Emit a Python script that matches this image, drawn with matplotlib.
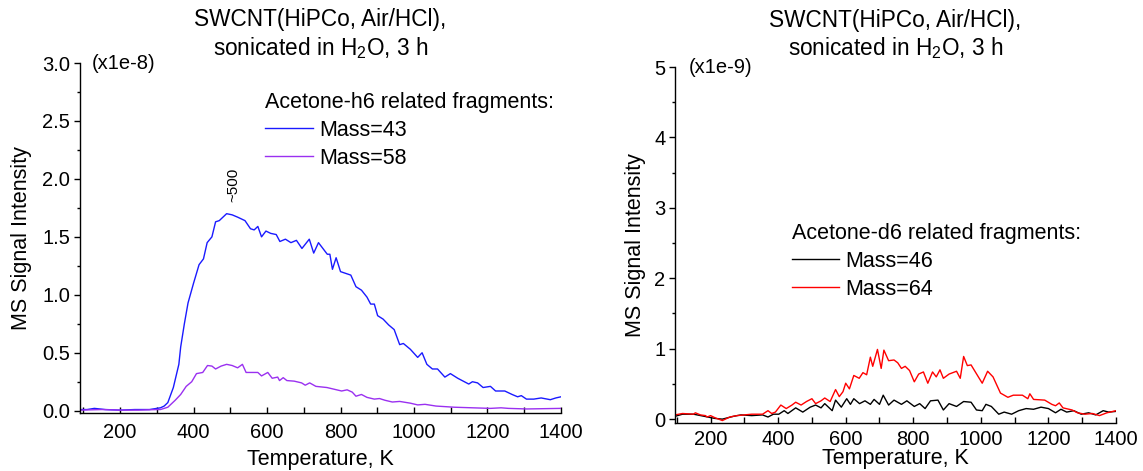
import matplotlib
matplotlib.use("Agg")
import matplotlib.pyplot as plt
from matplotlib.ticker import MultipleLocator, FormatStrFormatter

plt.rcParams['font.family'] = ['Liberation Sans', 'DejaVu Sans']
plt.rcParams['mathtext.fontset'] = 'custom'
plt.rcParams['mathtext.rm'] = 'Liberation Sans'
plt.rcParams['mathtext.it'] = 'Liberation Sans:italic'

# ---- Acetone-h6 (x1e-8) ----
t_h43 = [92, 110, 130, 160, 200, 240, 280, 300, 310, 320, 330, 345, 360, 365, 375, 385,
         400, 415, 427, 437, 450, 460, 470, 490, 505, 520, 540, 555, 565, 575, 585, 597,
         610, 625, 635, 650, 665, 680, 695, 715, 727, 740, 752, 764, 771, 778, 788, 800,
         828, 842, 857, 872, 882, 892, 901, 916, 931, 946, 961, 971, 990, 1010, 1022, 1035,
         1050, 1064, 1084, 1099, 1119, 1149, 1159, 1173, 1188, 1208, 1222, 1247, 1267, 1282,
         1292, 1306, 1326, 1346, 1371, 1386, 1400]
i_h43 = [0.01, 0.01, 0.02, 0.01, 0.005, 0.01, 0.01, 0.02, 0.025, 0.04, 0.07, 0.2, 0.4, 0.55, 0.75, 0.93,
         1.1, 1.26, 1.31, 1.45, 1.5, 1.63, 1.64, 1.70, 1.69, 1.67, 1.64, 1.57, 1.56, 1.59, 1.50, 1.55,
         1.53, 1.52, 1.46, 1.48, 1.45, 1.47, 1.40, 1.48, 1.36, 1.45, 1.40, 1.35, 1.35, 1.22, 1.32, 1.20,
         1.17, 1.07, 1.04, 0.98, 0.92, 0.92, 0.82, 0.79, 0.74, 0.70, 0.57, 0.58, 0.53, 0.46, 0.50, 0.40,
         0.36, 0.36, 0.29, 0.32, 0.28, 0.23, 0.25, 0.24, 0.20, 0.21, 0.17, 0.17, 0.14, 0.12,
         0.13, 0.10, 0.10, 0.11, 0.095, 0.11, 0.12]

t_h58 = [92, 150, 200, 250, 300, 310, 330, 350, 365, 380, 395, 408, 425, 438, 450, 460,
         475, 490, 505, 520, 533, 543, 560, 575, 585, 602, 614, 629, 634, 644, 654, 674,
         694, 704, 716, 733, 763, 783, 803, 818, 832, 842, 857, 872, 892, 906, 921, 941,
         961, 990, 1010, 1030, 1060, 1110, 1159, 1208, 1237, 1257, 1307, 1400]
i_h58 = [0.005, 0.01, 0.005, 0.005, 0.01, 0.01, 0.03, 0.09, 0.14, 0.21, 0.25, 0.32, 0.33, 0.39, 0.385, 0.36,
         0.385, 0.40, 0.39, 0.37, 0.40, 0.33, 0.33, 0.33, 0.30, 0.33, 0.28, 0.29, 0.26, 0.285, 0.26, 0.255,
         0.24, 0.22, 0.24, 0.21, 0.20, 0.185, 0.17, 0.18, 0.16, 0.125, 0.14, 0.115, 0.10, 0.105, 0.09, 0.075,
         0.08, 0.065, 0.05, 0.055, 0.04, 0.03, 0.025, 0.02, 0.025, 0.02, 0.015, 0.02]

# ---- Acetone-d6 (x1e-9) ----
t_d64 = [95, 117, 150, 155, 170, 185, 190, 200, 213, 235, 257, 278, 322, 354, 370, 381,
         392, 408, 424, 441, 452, 468, 484, 500, 511, 527, 538, 554, 570, 581, 592, 600,
         611, 624, 640, 651, 662, 673, 680, 694, 705, 713, 727, 743, 754, 765, 776, 789,
         803, 816, 830, 843, 857, 868, 879, 889, 906, 928, 939, 949, 960, 971, 1004, 1020,
         1036, 1058, 1080, 1096, 1123, 1139, 1145, 1156, 1189, 1210, 1221, 1232, 1243, 1270,
         1286, 1308, 1330, 1351, 1362, 1373, 1400]
i_d64 = [0.06, 0.08, 0.07, 0.09, 0.06, 0.05, 0.03, 0.05, 0.02, -0.02, 0.03, 0.05, 0.07, 0.07, 0.12, 0.08,
         0.10, 0.20, 0.15, 0.20, 0.24, 0.20, 0.25, 0.29, 0.22, 0.26, 0.30, 0.25, 0.42, 0.32, 0.39, 0.51,
         0.43, 0.62, 0.58, 0.66, 0.63, 0.88, 0.75, 0.99, 0.72, 0.98, 0.83, 0.84, 0.80, 0.72, 0.75, 0.69,
         0.53, 0.64, 0.67, 0.51, 0.67, 0.60, 0.70, 0.58, 0.64, 0.68, 0.58, 0.89, 0.76, 0.77, 0.51, 0.68,
         0.60, 0.37, 0.31, 0.34, 0.34, 0.29, 0.36, 0.28, 0.27, 0.21, 0.19, 0.23, 0.16, 0.13,
         0.09, 0.07, 0.08, 0.05, 0.07, 0.09, 0.12]

t_d46 = [95, 117, 150, 213, 235, 268, 290, 322, 354, 370, 386, 402, 418, 429, 452, 473,
         495, 511, 527, 538, 560, 570, 587, 603, 614, 624, 641, 657, 673, 684, 700, 711,
         727, 743, 765, 781, 803, 819, 835, 851, 873, 889, 906, 928, 949, 971, 987, 1004,
         1015, 1031, 1053, 1069, 1091, 1112, 1134, 1156, 1178, 1200, 1221, 1237, 1254, 1275,
         1297, 1319, 1340, 1362, 1378, 1400]
i_d46 = [0.04, 0.07, 0.07, 0.01, 0.0, 0.04, 0.06, 0.05, 0.06, 0.03, 0.07, 0.07, 0.12, 0.08, 0.16, 0.10,
         0.17, 0.20, 0.16, 0.22, 0.12, 0.27, 0.17, 0.29, 0.21, 0.29, 0.22, 0.26, 0.21, 0.28, 0.21, 0.34,
         0.20, 0.27, 0.21, 0.26, 0.18, 0.22, 0.15, 0.26, 0.27, 0.13, 0.22, 0.18, 0.25, 0.24, 0.13, 0.12,
         0.21, 0.18, 0.07, 0.10, 0.07, 0.12, 0.15, 0.14, 0.17, 0.15, 0.09, 0.14, 0.10, 0.12,
         0.07, 0.09, 0.06, 0.12, 0.10, 0.11]

title_lines = "SWCNT(HiPCo, Air/HCl),\nsonicated in H$_2$O, 3 h"

TICK_FS = 14.5
LABEL_FS = 15.5
TEXT_FS = 15.5
TITLE_FS = 16.3

fig = plt.figure(figsize=(11.43, 4.71), dpi=100)
ax1 = fig.add_axes([0.0700, 0.1231, 0.4208, 0.7431])
ax2 = fig.add_axes([0.5906, 0.1019, 0.3858, 0.7558])


def style_axes(ax, ymajor, yminor, xpad, xlabelpad):
    for s in ('top', 'right'):
        ax.spines[s].set_visible(False)
    for s in ('left', 'bottom'):
        ax.spines[s].set_linewidth(1.0)
    ax.xaxis.set_major_locator(MultipleLocator(200))
    ax.xaxis.set_minor_locator(MultipleLocator(100))
    ax.yaxis.set_major_locator(MultipleLocator(ymajor))
    ax.yaxis.set_minor_locator(MultipleLocator(yminor))
    ax.tick_params(axis='x', which='both', direction='in', length=4.5, width=1.0,
                   labelsize=TICK_FS, pad=xpad)
    ax.tick_params(axis='y', which='major', direction='out', length=4, width=1.0,
                   labelsize=TICK_FS, pad=3)
    ax.tick_params(axis='y', which='minor', direction='out', length=2.5, width=1.0)
    ax.set_xlabel("Temperature, K", fontsize=LABEL_FS, labelpad=xlabelpad)
    ax.set_ylabel("MS Signal Intensity", fontsize=LABEL_FS)


def add_legend(ax, title, anchor):
    ax.legend(title=title, loc='upper left', bbox_to_anchor=anchor, frameon=False,
              fontsize=TEXT_FS, title_fontsize=TEXT_FS, alignment='left',
              handlelength=2.2, handletextpad=0.3, borderpad=0, borderaxespad=0,
              labelspacing=0.33)


# Left panel
ax1.plot(t_h43, i_h43, color='#1a1aff', lw=1.0, label='Mass=43')
ax1.plot(t_h58, i_h58, color='#9a30f0', lw=1.0, label='Mass=58')
ax1.set_xlim(91, 1400)
ax1.set_ylim(-0.02, 3.0)
style_axes(ax1, 0.5, 0.25, xpad=7, xlabelpad=5)
ax1.yaxis.set_major_formatter(FormatStrFormatter('%.1f'))
ax1.yaxis.set_label_coords(-0.1, 0.5)
ax1.text(0.025, 1.0, "(x1e-8)", transform=ax1.transAxes, fontsize=TICK_FS,
         ha='left', va='center')
ax1.text(508, 1.80, "~500", rotation=90, ha='center', va='bottom', fontsize=11)
ax1.text(0.5, 1.006, title_lines, transform=ax1.transAxes, ha='center', va='bottom',
         fontsize=TITLE_FS, linespacing=1.18)
add_legend(ax1, "Acetone-h6 related fragments:", (0.385, 0.918))

# Right panel
ax2.plot(t_d46, i_d46, color='black', lw=1.0, label='Mass=46')
ax2.plot(t_d64, i_d64, color='#ff0000', lw=1.0, label='Mass=64')
ax2.set_xlim(95, 1400)
ax2.set_ylim(-0.055, 5.0)
style_axes(ax2, 1, 0.5, xpad=5, xlabelpad=-1)
ax2.yaxis.set_label_coords(-0.066, 0.5)
ax2.text(0.03, 1.0, "(x1e-9)", transform=ax2.transAxes, fontsize=TICK_FS,
         ha='left', va='center')
ax2.text(0.5, 1.016, title_lines, transform=ax2.transAxes, ha='center', va='bottom',
         fontsize=TITLE_FS, linespacing=1.18)
add_legend(ax2, "Acetone-d6 related fragments:", (0.265, 0.563))

fig.savefig("out.png", dpi=100)
